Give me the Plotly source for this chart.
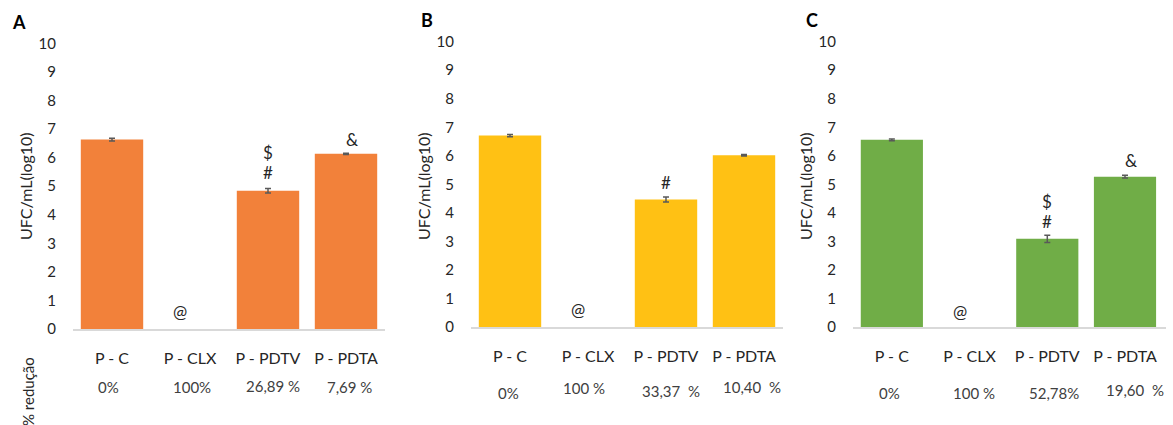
import plotly.graph_objects as go

categories = ["P - C", "P - CLX", "P - PDTV", "P - PDTA"]

values_a = [6.63, 0, 4.84, 6.13]
errors_a = [0.05, 0, 0.08, 0.02]
values_b = [6.71, 0, 4.47, 6.02]
errors_b = [0.04, 0, 0.09, 0.03]
values_c = [6.56, 0, 3.09, 5.27]
errors_c = [0.03, 0, 0.13, 0.05]

reduction_a = ["0%", "100%", "26,89 %", "7,69 %"]
reduction_b = ["0%", "100 %", "33,37  %", "10,40  %"]
reduction_c = ["0%", "100 %", "52,78%", "19,60  %"]

panel_labels = ["A", "B", "C"]
colors = ["#F2813A", "#FFC114", "#70AD47"]

# significance markers: (category, text, y value)
marks_a = [("P - CLX", "@", 0.6), ("P - PDTV", "#", 5.48), ("P - PDTV", "$", 6.17), ("P - PDTA", "&", 6.64)]
marks_b = [("P - CLX", "@", 0.6), ("P - PDTV", "#", 5.08)]
marks_c = [("P - CLX", "@", 0.53), ("P - PDTV", "#", 3.69), ("P - PDTV", "$", 4.39), ("P - PDTA", "&", 5.82)]

W, H = 1173, 425
FONT = "Lato"
TXT = "#404040"

panels = [
    dict(vals=values_a, errs=errors_a, red=reduction_a, marks=marks_a,
         x0=73, x1=385, ytop=43.3, ybot=329, lab=(18.5, 22), ytitle_x=25,
         red_y=[387, 387, 386, 387], red_dx=[-4, 2, 5, 3]),
    dict(vals=values_b, errs=errors_b, red=reduction_b, marks=marks_b,
         x0=471, x1=783, ytop=41.7, ybot=327, lab=(427, 20.5), ytitle_x=423,
         red_y=[393, 388, 391, 387], red_dx=[-2, -4, 5, 8]),
    dict(vals=values_c, errs=errors_c, red=reduction_c, marks=marks_c,
         x0=853, x1=1166, ytop=41.7, ybot=327, lab=(812, 20), ytitle_x=805,
         red_y=[393, 393, 393, 390], red_dx=[-2, 4, 7, 10]),
]

mark_dx = {"@": -10, "&": 6, "#": 0, "$": 0}

fig = go.Figure()
annotations = []
for i, p in enumerate(panels):
    n = "" if i == 0 else str(i + 1)
    xa, ya = "x" + n, "y" + n
    # zero-valued groups (no growth) have no visible bar or error bar
    yvals = [v if v > 0 else None for v in p["vals"]]
    fig.add_trace(go.Bar(
        x=categories, y=yvals, xaxis=xa, yaxis=ya,
        marker=dict(color=colors[i], line=dict(width=0)),
        error_y=dict(type="data", array=p["errs"], color="#595959", thickness=1.5, width=3),
        showlegend=False, hoverinfo="x+y",
    ))
    xdom = [p["x0"] / W, p["x1"] / W]
    ydom = [1 - p["ybot"] / H, 1 - p["ytop"] / H]
    fig.update_layout(**{
        ("xaxis" + n): dict(domain=xdom, anchor=ya, showline=True, linecolor="#D9D9D9",
                            linewidth=1.5, showgrid=False, zeroline=False, ticks="",
                            ticklabelstandoff=14, automargin=False,
                            categoryorder="array", categoryarray=categories,
                            tickfont=dict(family=FONT, size=16, color="#262626")),
        ("yaxis" + n): dict(domain=ydom, anchor=xa, range=[0, 10], dtick=1, showgrid=False,
                            zeroline=False, showline=False, ticks="", ticklabelstandoff=16,
                            automargin=False,
                            tickfont=dict(family=FONT, size=15, color="#262626")),
    })
    # panel label
    annotations.append(dict(xref="paper", yref="paper", x=p["lab"][0] / W, y=1 - p["lab"][1] / H,
                            xanchor="center", yanchor="middle",
                            text="<b>%s</b>" % panel_labels[i], showarrow=False,
                            font=dict(family=FONT, size=18, color="black")))
    # y-axis title
    annotations.append(dict(xref="paper", yref="paper", x=p["ytitle_x"] / W, y=1 - 186 / H,
                            xanchor="center", yanchor="middle",
                            text="UFC/mL(log10)", textangle=-90, showarrow=False,
                            font=dict(family=FONT, size=16, color="#262626")))
    # reduction labels
    for j, cat in enumerate(categories):
        annotations.append(dict(xref=xa, yref="paper", x=cat, y=1 - p["red_y"][j] / H,
                                xanchor="center", yanchor="middle",
                                xshift=p["red_dx"][j], text=p["red"][j], showarrow=False,
                                font=dict(family=FONT, size=15, color=TXT)))
    # significance markers
    for cat, sym, yv in p["marks"]:
        annotations.append(dict(xref=xa, yref=ya, x=cat, y=yv, text=sym, showarrow=False,
                                xanchor="center", yanchor="middle",
                                xshift=mark_dx[sym],
                                font=dict(family=FONT, size=17, color="#262626")))

annotations.append(dict(xref="paper", yref="paper", x=28 / W, y=1 - 392 / H,
                        xanchor="center", yanchor="middle",
                        text="% redução", textangle=-90, showarrow=False,
                        font=dict(family=FONT, size=15, color="#262626")))

fig.update_layout(
    width=W, height=H, margin=dict(l=0, r=0, t=0, b=0, autoexpand=False),
    plot_bgcolor="white", paper_bgcolor="white",
    bargap=0.2, annotations=annotations,
    font=dict(family=FONT),
)

fig.write_html("out.html", config={"displayModeBar": False},
               post_script="document.body.style.margin='0';")
